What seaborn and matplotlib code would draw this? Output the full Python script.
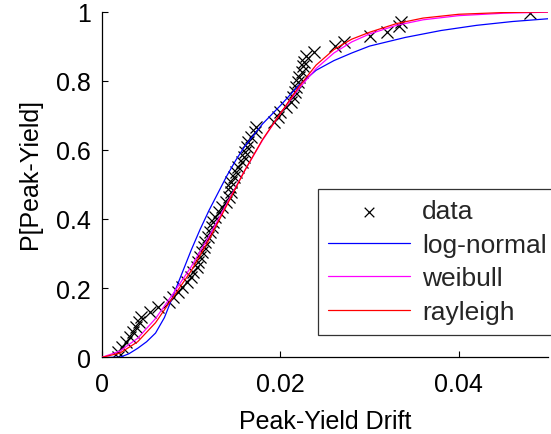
import matplotlib
matplotlib.use("Agg")
import matplotlib.pyplot as plt
import seaborn as sns
import pandas as pd

# empirical data points (drift, probability)
data_x = [0.0018, 0.0018, 0.0022, 0.0027, 0.0031, 0.0035, 0.0038, 0.0041, 0.0044, 0.0054,
          0.0063, 0.0075, 0.0080, 0.0085, 0.0090, 0.0095, 0.0100, 0.0102, 0.0106, 0.0108,
          0.0110, 0.0112, 0.0114, 0.0116, 0.0119, 0.0121, 0.0123, 0.0124, 0.0127, 0.0131,
          0.0135, 0.0139, 0.0142, 0.0145, 0.0143, 0.0145, 0.0148, 0.0150, 0.0153, 0.0157,
          0.0159, 0.0160, 0.0162, 0.0164, 0.0167, 0.0171, 0.0173, 0.0193, 0.0197, 0.0200,
          0.0206, 0.0212, 0.0214, 0.0216, 0.0218, 0.0220, 0.0221, 0.0224, 0.0225, 0.0227,
          0.0229, 0.0238, 0.0261, 0.0271, 0.0300, 0.0320, 0.0333, 0.0335, 0.0480]
data_y = [0.000, 0.014, 0.029, 0.043, 0.058, 0.072, 0.087, 0.101, 0.116, 0.130,
          0.145, 0.159, 0.174, 0.188, 0.203, 0.217, 0.232, 0.246, 0.261, 0.275,
          0.290, 0.304, 0.319, 0.333, 0.348, 0.362, 0.377, 0.391, 0.406, 0.420,
          0.435, 0.449, 0.464, 0.478, 0.493, 0.507, 0.522, 0.536, 0.551, 0.565,
          0.580, 0.594, 0.609, 0.623, 0.638, 0.652, 0.667, 0.681, 0.696, 0.710,
          0.725, 0.739, 0.754, 0.768, 0.783, 0.797, 0.812, 0.826, 0.841, 0.855,
          0.870, 0.884, 0.899, 0.913, 0.928, 0.942, 0.957, 0.971, 0.996]

# fitted CDF curves
lognorm_x = [0.000, 0.002, 0.003, 0.004, 0.005, 0.006, 0.007, 0.008, 0.009, 0.010,
             0.011, 0.012, 0.013, 0.014, 0.015, 0.016, 0.018, 0.020, 0.022, 0.024,
             0.026, 0.028, 0.030, 0.034, 0.038, 0.042, 0.046, 0.050]
lognorm_y = [0.000, 0.000, 0.010, 0.026, 0.045, 0.070, 0.115, 0.180, 0.245, 0.310,
             0.370, 0.425, 0.475, 0.525, 0.570, 0.610, 0.675, 0.728, 0.785, 0.830,
             0.858, 0.880, 0.900, 0.925, 0.945, 0.960, 0.971, 0.979]

weib_x = [0.000, 0.002, 0.004, 0.006, 0.008, 0.010, 0.012, 0.014, 0.016, 0.018,
          0.020, 0.022, 0.024, 0.026, 0.028, 0.030, 0.033, 0.036, 0.040, 0.045, 0.050]
weib_y = [0.000, 0.018, 0.055, 0.112, 0.185, 0.262, 0.350, 0.445, 0.540, 0.628,
          0.705, 0.775, 0.835, 0.880, 0.912, 0.935, 0.960, 0.976, 0.988, 0.995, 0.998]

rayl_x = [0.000, 0.002, 0.004, 0.006, 0.008, 0.010, 0.012, 0.014, 0.016, 0.018,
          0.020, 0.022, 0.024, 0.026, 0.028, 0.030, 0.033, 0.036, 0.040, 0.045, 0.050]
rayl_y = [0.000, 0.012, 0.045, 0.100, 0.175, 0.250, 0.340, 0.440, 0.540, 0.630,
          0.705, 0.780, 0.845, 0.890, 0.920, 0.940, 0.965, 0.981, 0.992, 0.997, 0.999]

x_ticks = [0, 0.02, 0.04]
x_tick_labels = ["0", "0.02", "0.04"]
y_ticks = [0, 0.2, 0.4, 0.6, 0.8, 1]
y_tick_labels = ["0", "0.2", "0.4", "0.6", "0.8", "1"]

sns.set_theme(style="white")
plt.rcParams["font.family"] = ["Liberation Sans", "DejaVu Sans"]

fig = plt.figure(figsize=(5.51, 4.35), dpi=100)
ax = fig.add_axes([102 / 551, (435 - 358.3) / 435, 446 / 551, 345.8 / 435])

df_data = pd.DataFrame({"x": data_x, "y": data_y})
sns.scatterplot(data=df_data, x="x", y="y", marker="x", s=75, color="black",
                linewidth=0.9, ax=ax, zorder=2, label="data")
sns.lineplot(x=lognorm_x, y=lognorm_y, color="#0000ff", linewidth=0.9, ax=ax,
             sort=False, estimator=None, label="log-normal", zorder=3)
sns.lineplot(x=weib_x, y=weib_y, color="#ff00ff", linewidth=0.9, ax=ax,
             sort=False, estimator=None, label="weibull", zorder=4)
sns.lineplot(x=rayl_x, y=rayl_y, color="#ff0000", linewidth=0.9, ax=ax,
             sort=False, estimator=None, label="rayleigh", zorder=5)

ax.set_xlim(0, 0.05)
ax.set_ylim(0, 1)
ax.set_xticks(x_ticks)
ax.set_xticklabels(x_tick_labels)
ax.set_yticks(y_ticks)
ax.set_yticklabels(y_tick_labels)
ax.tick_params(axis="both", direction="in", length=4, width=0.8, labelsize=18,
               colors="black", bottom=True, left=True, top=False, right=False)
ax.tick_params(axis="x", pad=10.5)
ax.tick_params(axis="y", pad=8)

for side in ["top", "right"]:
    ax.spines[side].set_visible(False)
for side in ["left", "bottom"]:
    ax.spines[side].set_color("black")
    ax.spines[side].set_linewidth(0.9)

ax.set_xlabel("Peak-Yield Drift", fontsize=18, color="black")
ax.set_ylabel("P[Peak-Yield]", fontsize=18, color="black")
ax.xaxis.set_label_coords(0.5, -0.15)
ax.yaxis.set_label_coords(-0.135, 0.533)

leg = ax.legend(loc="upper left", bbox_to_anchor=(0.484, 0.487), borderaxespad=0,
                fontsize=19, frameon=True, fancybox=False, handlelength=3.1,
                handletextpad=0.45, labelspacing=0.36, borderpad=0.4, markerscale=0.8)
leg.get_frame().set_edgecolor("black")
leg.get_frame().set_linewidth(0.9)

fig.savefig("out.png", dpi=100)
